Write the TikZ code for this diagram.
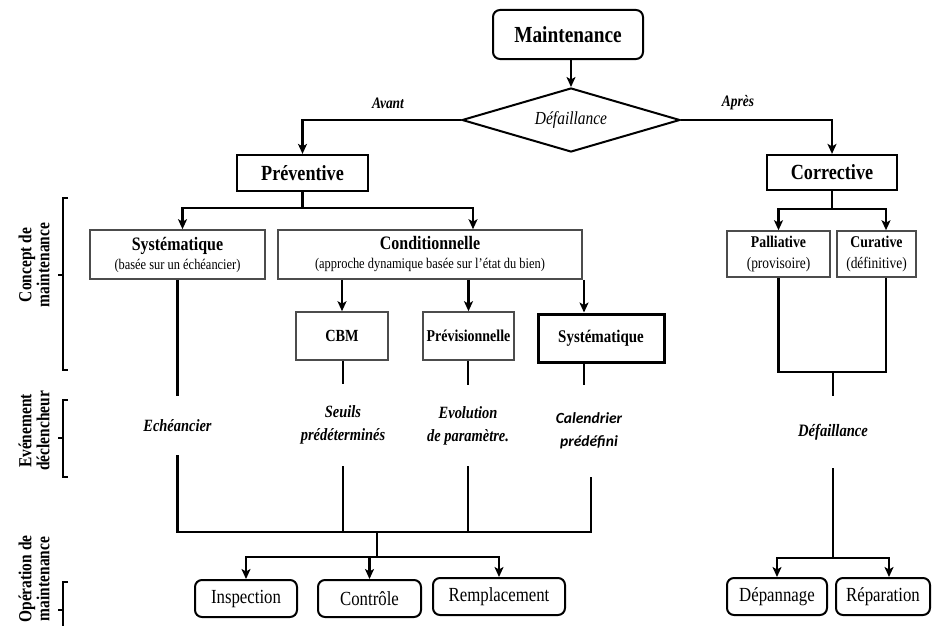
\documentclass[tikz,border=0pt]{standalone}
\usepackage{fontspec}
\setmainfont{Liberation Serif}
\newfontfamily\calib{Carlito}
\usetikzlibrary{shapes.geometric,arrows.meta}
\newcommand\nar[1]{\scalebox{0.84}[1]{#1}}
\begin{document}
\begin{tikzpicture}[x=1pt,y=-1pt, line width=2.1pt,
  >={Stealth[length=10pt,width=9pt,inset=2.5pt]},
  arr/.style={->},
  bx/.style={draw, line width=2.2pt, inner sep=0pt, align=center},
  gbx/.style={draw=black!70, line width=1.6pt, inner sep=0pt, align=center},
  rbx/.style={draw, line width=2pt, rounded corners=7pt, inner sep=0pt, align=center},
  lbl/.style={inner sep=0pt, align=center, font=\fontsize{17.2}{23}\selectfont\bfseries\itshape},
  side/.style={rotate=90, align=center, inner sep=0pt, font=\fontsize{18.4}{18}\selectfont\bfseries},
  brk/.style={line width=1.6pt}]
\useasboundingbox (0,0) rectangle (933,626);

% top
\node[rbx, minimum width=150pt, minimum height=49pt, font=\fontsize{23}{22}\selectfont\bfseries] (mnt) at (568,34.5) {\nar{Maintenance}};
\node[draw, diamond, line width=2pt, aspect=3.4, minimum width=218pt, minimum height=64pt, inner sep=0pt,
      font=\fontsize{18.4}{18}\selectfont\itshape] (diam) at (571,120) {\nar{Défaillance}};
\draw[arr] (diam.north |- mnt.south) -- (diam.north);

\node[bx, minimum width=131pt, minimum height=36pt, font=\fontsize{21.6}{21}\selectfont\bfseries] (prev) at (302.5,173) {\nar{Préventive}};
\node[bx, minimum width=130pt, minimum height=35pt, font=\fontsize{21.6}{21}\selectfont\bfseries] (corr) at (832,172.5) {\nar{Corrective}};
\draw[arr] (diam.west) -| (prev.north);
\draw[arr] (diam.east) -| (corr.north);
\node[inner sep=0pt, font=\fontsize{16}{14}\selectfont\bfseries\itshape] (avant) at (388,103) {\nar{Avant}};
\node[inner sep=0pt, font=\fontsize{16}{14}\selectfont\bfseries\itshape] (apres) at (738,103) {\nar{Après}};

% preventive branch
\node[gbx, minimum width=175pt, minimum height=49pt, font=\fontsize{14.8}{19}\selectfont] (sysA) at (177.5,254.5)
  {{\fontsize{19}{19}\selectfont\bfseries\nar{Systématique}}\\\nar{(basée sur un échéancier)}};
\node[gbx, minimum width=304pt, minimum height=49pt, font=\fontsize{14.8}{19}\selectfont] (cond) at (430,254.5)
  {{\fontsize{19}{19}\selectfont\bfseries\nar{Conditionnelle}}\\\nar{(approche dynamique basée sur l'état du bien)}};
\draw (prev.south) -- ++(0,16) coordinate (pj);
\draw[arr] (pj) -| ([xshift=5pt]sysA.north);
\draw[arr] (pj) -| ([xshift=43pt]cond.north);

\node[gbx, minimum width=92pt, minimum height=48pt, font=\fontsize{17}{17}\selectfont\bfseries] (cbm) at (342,336) {\nar{CBM}};
\node[gbx, minimum width=91pt, minimum height=48pt, font=\fontsize{16.6}{17}\selectfont\bfseries] (prevn) at (468.5,336) {\nar{Prévisionnelle}};
\node[draw, line width=3pt, minimum width=126pt, minimum height=48pt, inner sep=0pt, font=\fontsize{17.8}{18}\selectfont\bfseries] (sys2) at (601,338) {\nar{Systématique}};
\draw[arr] (cbm.north |- cond.south) -- (cbm.north);
\draw[arr] (prevn.north |- cond.south) -- (prevn.north);
\draw[arr] ([xshift=-17pt]sys2.north |- cond.south) -- ([xshift=-17pt]sys2.north);

% events
\node[lbl, minimum height=57pt] (ech) at (177.5,425.5) {\nar{Echéancier}};
\node[lbl, minimum height=80pt] (seu) at (343,425) {\nar{Seuils}\\\nar{prédéterminés}};
\node[lbl, minimum height=79pt] (evo) at (468,425.5) {\nar{Evolution}\\\nar{de paramètre.}};
\node[lbl, minimum height=90pt, font=\calib\fontsize{15.5}{23}\selectfont\bfseries\itshape] (cal) at (589,431) {Calendrier\\prédéfini};
\draw (sysA.south) -- (ech.north);
\draw (seu.north |- cbm.south) -- (seu.north);
\draw (evo.north |- prevn.south) -- (evo.north);
\draw ([xshift=-17pt]sys2.south) -- ([xshift=-5pt]cal.north);

\coordinate (jb) at (377,532);
\draw (ech.south) |- (jb);
\draw ([xshift=2pt]cal.south) |- (jb);
\draw (seu.south) -- (seu.south |- jb);
\draw (evo.south) -- (evo.south |- jb);
\draw (jb) -- ++(0,25) coordinate (jc);

\node[rbx, minimum width=102pt, minimum height=37pt, font=\fontsize{20}{20}\selectfont] (insp) at (246,598.5) {\nar{Inspection}};
\node[rbx, minimum width=103pt, minimum height=37pt, font=\fontsize{20}{20}\selectfont] (cont) at (369.5,598.5) {\nar{Contrôle}};
\node[rbx, minimum width=132pt, minimum height=37pt, font=\fontsize{20}{20}\selectfont] (remp) at (499,596.5) {\nar{Remplacement}};
\draw[arr] (jc) -| (insp.north);
\draw[arr] (jc) -| (remp.north);
\draw[arr] (cont.north |- jc) -- (cont.north);

% corrective branch
\node[gbx, minimum width=103pt, minimum height=46pt, font=\fontsize{16}{21}\selectfont] (pall) at (778.5,254)
  {{\fontsize{16.4}{21}\selectfont\bfseries\nar{Palliative}}\\\nar{(provisoire)}};
\node[gbx, minimum width=79pt, minimum height=46pt, font=\fontsize{16}{21}\selectfont] (cur) at (876.5,254)
  {{\fontsize{16.4}{21}\selectfont\bfseries\nar{Curative}}\\\nar{(définitive)}};
\draw (corr.south) -- ++(0,17.5) coordinate (cj);
\draw[arr] (cj) -| (pall.north);
\draw[arr] (cj) -| ([xshift=9.5pt]cur.north);
\coordinate (rj) at (833,372);
\draw (pall.south) |- (rj);
\draw ([xshift=9.5pt]cur.south) |- (rj);
\node[lbl, minimum height=70pt, font=\fontsize{17.4}{17}\selectfont\bfseries\itshape] (defr) at (833,432) {\nar{Défaillance}};
\draw (rj) -- (defr.north);
\draw (defr.south) -- ++(0,90) coordinate (rk);
\node[rbx, minimum width=100pt, minimum height=37pt, font=\fontsize{20}{20}\selectfont] (dep) at (777,596.5) {\nar{Dépannage}};
\node[rbx, minimum width=94pt, minimum height=37pt, font=\fontsize{20}{20}\selectfont] (rep) at (883,596.5) {\nar{Réparation}};
\draw[arr] (rk) -| (dep.north);
\draw[arr] (rk) -| ([xshift=6pt]rep.north);

% side labels and brackets
\node[side] (c1) at (34,265) {\nar{Concept de}\\\nar{maintenance}};
\node[side] (c2) at (34,431) {\nar{Evénement}\\\nar{déclencheur}};
\node[side] (c3) at (34,579) {\nar{Opération de}\\\nar{maintenance}};
\draw[brk] (68,198) -- (63,198) -- (63,370) -- (68,370) (63,275) -- (58,275);
\draw[brk] (68,400) -- (63,400) -- (63,477) -- (68,477) (63,438) -- (58,438);
\draw[brk] (68,582) -- (63,582) -- (63,626) (63,610) -- (58,610);
\end{tikzpicture}
\end{document}
